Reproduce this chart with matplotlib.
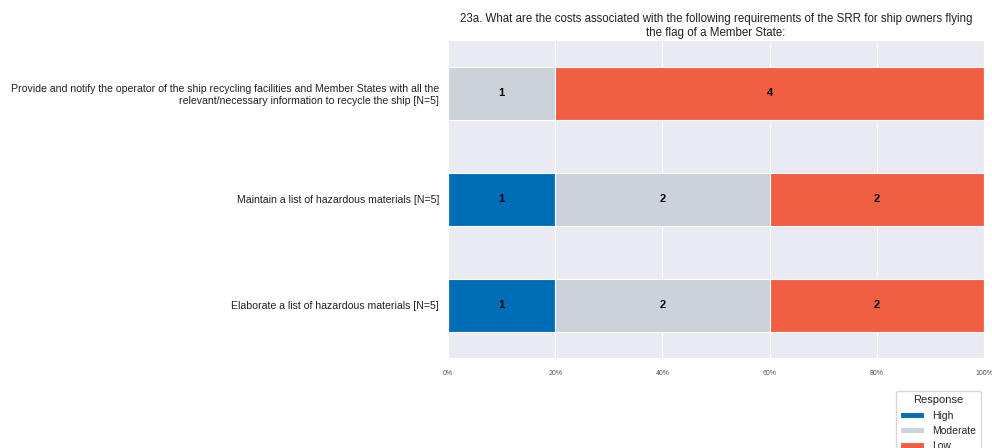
import numpy as np
import matplotlib
matplotlib.use('Agg')
import matplotlib.pyplot as plt
import matplotlib.ticker as mticker
import seaborn as sns

categories = [
    "Provide and notify the operator of the ship recycling facilities and Member States with all the\nrelevant/necessary information to recycle the ship [N=5]",
    "Maintain a list of hazardous materials [N=5]",
    "Elaborate a list of hazardous materials [N=5]",
]
responses = ["High", "Moderate", "Low"]
counts = {
    "High": [0, 1, 1],
    "Moderate": [1, 2, 2],
    "Low": [4, 2, 2],
}
colors = {"High": "#006EB7", "Moderate": "#CBD3DA", "Low": "#F15F43"}
title = ("23a. What are the costs associated with the following requirements of the SRR for ship owners flying\n"
         "the flag of a Member State:")

sns.set_style('darkgrid')
plt.rcParams['font.family'] = ['Liberation Sans', 'DejaVu Sans']

fig = plt.figure(figsize=(9.92, 4.48), dpi=100)
ax = fig.add_axes([448 / 992, 1 - 358 / 448, (984 - 448) / 992, (358 - 40) / 448])

totals = np.sum([counts[r] for r in responses], axis=0)
y = np.arange(len(categories))
left = np.zeros(len(categories))
for r in responses:
    vals = np.array(counts[r], dtype=float)
    pct = vals / totals * 100
    ax.barh(y, pct, left=left, height=0.5, color=colors[r], label=r,
            edgecolor='white', linewidth=0.8)
    for i in range(len(categories)):
        if vals[i] > 0:
            ax.text(left[i] + pct[i] / 2, y[i], "%d" % vals[i], ha='center', va='center',
                    fontsize=8, fontweight='bold', color='black')
    left += pct

ax.set_ylim(len(categories) - 0.5, -0.5)
ax.set_xlim(0, 100)
ax.set_yticks(y)
ax.set_yticklabels(categories, fontsize=7.55, color='#222222')
ax.set_xticks([0, 20, 40, 60, 80, 100])
ax.xaxis.set_major_formatter(mticker.FormatStrFormatter('%d%%'))
ax.tick_params(axis='x', labelsize=5, pad=5, colors='#555555')
ax.tick_params(axis='y', pad=3)
ax.grid(axis='y', visible=False)
ax.set_title(title, fontsize=8.3, pad=3, color='#222222')

# legend hangs off the bottom edge like in the original
leg = ax.legend(title="Response", loc='upper right', bbox_to_anchor=(986 / 992, 1 - 386 / 448),
                bbox_transform=fig.transFigure, fontsize=7.5, title_fontsize=8,
                frameon=True, handlelength=2.3, handleheight=0.6, labelspacing=0.5)
leg.get_frame().set_facecolor('white')
leg.get_frame().set_edgecolor('#cccccc')

fig.savefig('out.png', dpi=100)
